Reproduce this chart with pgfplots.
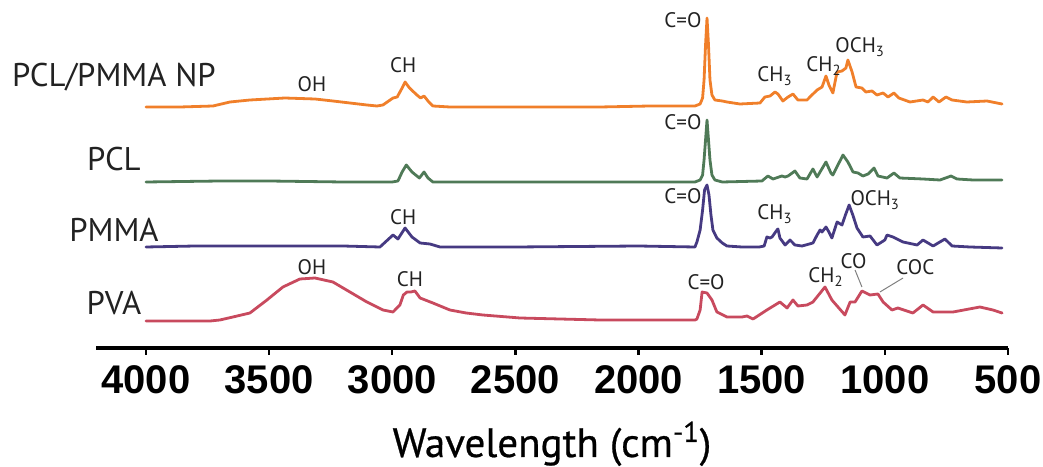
\documentclass[border=0pt]{standalone}
\usepackage{pgfplots}
\pgfplotsset{compat=1.18}
\usepackage{fontspec}
\setmainfont{PT Sans}
\newfontfamily\tickfont{Liberation Sans}
\newfontfamily\labfont{PT Sans}[FakeBold=0.6]
\definecolor{cOr}{HTML}{F07F2A}
\definecolor{cGr}{HTML}{4F7A57}
\definecolor{cPu}{HTML}{463A82}
\definecolor{cRe}{HTML}{C84A5E}
\definecolor{cTx}{HTML}{222222}
\begin{document}
\begin{tikzpicture}
\begin{axis}[
  scale only axis, width=456pt, height=174pt,
  xmin=500, xmax=4203, ymin=-348, ymax=0,
  x dir=reverse,
  axis x line=bottom, axis y line=none,
  x axis line style={-, line width=2pt},
  xtick={500,1000,1500,2000,2500,3000,3500,4000},
  xticklabels={500,1000,1500,2000,2500,3000,3500,4000},
  tick align=outside, major tick length=3.5pt,
  tick style={black, line width=1.2pt},
  xticklabel style={font=\tickfont\bfseries\fontsize{20}{20}\selectfont, anchor=north, inner sep=0pt, yshift=-5pt},
  xlabel={Wavelength (cm\textsuperscript{-1})},
  xlabel style={font=\labfont\fontsize{20.5}{22}\selectfont, at={(axis description cs:0.5,0)}, anchor=base, yshift=-54.5pt, inner sep=0pt},
  clip=false,
  every axis plot/.append style={line width=1.4pt, line join=round, line cap=round, mark=none},
]
% invisible bounding box
\path (axis cs:4592.8,-461) rectangle (axis cs:357.8,0);

% PCL/PMMA NP (orange)
\addplot[cOr] coordinates {
(4000,-107) (3862,-107) (3728,-106) (3659,-102) (3578,-100) (3436,-98) (3314,-99) (3241,-101) (3172,-103) (3103,-105) (3062,-106) (3038,-105)
(2997,-98) (2980,-97) (2960,-88) (2948,-82) (2930,-88) (2900,-95) (2885,-98) (2871,-96) (2855,-101) (2835,-106) (2766,-107) (2481,-107) (2157,-107) (1954,-106)
(1771,-106) (1750,-104) (1740,-98) (1734,-80) (1728,-45) (1722,-18) (1716,-45) (1710,-80) (1702,-95) (1690,-100) (1660,-101) (1641,-102) (1588,-104)
(1507,-103) (1487,-97) (1466,-96) (1446,-92) (1434,-94) (1414,-101) (1393,-97) (1373,-94) (1353,-100) (1316,-100) (1296,-95) (1275,-90) (1255,-87)
(1239,-76) (1227,-85) (1211,-93) (1194,-72) (1174,-71) (1158,-68) (1150,-60) (1133,-72) (1117,-87) (1093,-88) (1077,-92) (1052,-91) (1032,-95)
(1007,-93) (987,-97) (963,-93) (943,-98) (898,-102) (845,-100) (825,-102) (804,-97) (780,-102) (752,-97) (727,-100) (667,-102) (585,-101) (524,-104)
};

% PCL (green)
\addplot[cGr] coordinates {
(4000,-182) (3700,-181) (3500,-181) (3200,-182) (3000,-182) (2977,-181) (2960,-172) (2943,-165) (2920,-172) (2890,-178) (2871,-172) (2855,-178) (2835,-182)
(2500,-182) (2000,-182) (1771,-182) (1750,-180) (1740,-175) (1734,-160) (1728,-140) (1722,-120) (1716,-140) (1710,-160) (1702,-175) (1690,-180) (1660,-182)
(1499,-181) (1475,-176) (1454,-179) (1418,-176) (1405,-177) (1393,-176) (1365,-171) (1345,-178) (1316,-179) (1292,-169) (1275,-177) (1239,-162)
(1219,-173) (1211,-175) (1170,-155) (1150,-162) (1129,-172) (1109,-173) (1089,-176) (1068,-174) (1044,-168) (1028,-176) (991,-178) (963,-173)
(939,-178) (845,-179) (776,-180) (731,-176) (707,-179) (642,-180) (524,-180)
};

% PMMA (purple)
\addplot[cPu] coordinates {
(4000,-247) (3800,-246) (3500,-246) (3200,-246) (3050,-247) (2997,-235) (2977,-239) (2948,-228) (2920,-237) (2887,-243) (2847,-244) (2806,-247)
(2500,-247) (2000,-246) (1771,-247) (1763,-242) (1750,-230) (1740,-210) (1732,-190) (1722,-185) (1714,-195) (1706,-215) (1698,-230) (1682,-238) (1660,-243)
(1641,-246) (1580,-247) (1510,-247) (1490,-246) (1479,-237) (1466,-238) (1458,-237) (1438,-230) (1434,-229) (1426,-238) (1405,-245) (1385,-240)
(1365,-245) (1336,-246) (1292,-243) (1275,-235) (1263,-230) (1255,-232) (1239,-227) (1227,-232) (1215,-238) (1194,-222) (1174,-225) (1160,-215)
(1145,-205) (1130,-215) (1113,-228) (1089,-237) (1060,-236) (1032,-245) (1000,-240) (991,-235) (967,-237) (926,-242) (869,-245) (845,-240)
(804,-246) (756,-239) (727,-246) (654,-247) (524,-248)
};

% PVA (red)
\addplot[cRe] coordinates {
(4000,-321) (3862,-321) (3740,-321) (3700,-320) (3647,-317) (3578,-313) (3509,-300) (3444,-287) (3375,-279) (3314,-278) (3241,-282) (3172,-292)
(3103,-302) (3038,-310) (2997,-312) (2969,-305) (2955,-295) (2940,-292) (2925,-292) (2908,-291) (2887,-298) (2835,-303) (2766,-310) (2700,-313) (2632,-315)
(2481,-318) (2157,-320) (1954,-320) (1771,-320) (1763,-319) (1750,-310) (1742,-292) (1722,-293) (1702,-300) (1682,-312) (1641,-317) (1580,-317)
(1560,-316) (1535,-319) (1479,-310) (1426,-302) (1397,-308) (1373,-300) (1353,-306) (1316,-305) (1292,-302) (1243,-287) (1215,-300) (1162,-315)
(1141,-302) (1121,-302) (1093,-291) (1060,-295) (1028,-294) (1007,-302) (971,-310) (947,-308) (886,-313) (845,-305) (804,-312) (723,-312)
(614,-307) (561,-310) (524,-313)
};

% sample labels
\begin{scope}[every node/.style={anchor=base, inner sep=0pt, font=\fontsize{16.4}{16}\selectfont, text=cTx}]
\node at (axis cs:4130,-87) {PCL/PMMA NP};
\node at (axis cs:4130,-171) {PCL};
\node at (axis cs:4130,-242) {PMMA};
\node at (axis cs:4130,-315) {PVA};
\end{scope}

% annotations
\begin{scope}[every node/.style={anchor=base, inner sep=0pt, font=\fontsize{10.5}{10}\selectfont, text=cTx}]
\node at (axis cs:1820,-28) {C=O};
\node at (axis cs:2956,-73) {CH};
\node at (axis cs:3326,-92) {OH};
\node[anchor=base west] at (axis cs:1519,-82) {CH\textsubscript{3}};
\node[anchor=base west] at (axis cs:1320,-72) {CH\textsubscript{2}};
\node[anchor=base west] at (axis cs:1202,-53) {OCH\textsubscript{3}};
\node at (axis cs:1820,-130) {C=O};
\node at (axis cs:2956,-225) {CH};
\node at (axis cs:1820,-204) {C=O};
\node[anchor=base west] at (axis cs:1519,-220) {CH\textsubscript{3}};
\node[anchor=base west] at (axis cs:1141,-206) {OCH\textsubscript{3}};
\node at (axis cs:3326,-275) {OH};
\node at (axis cs:2928,-287) {CH};
\node at (axis cs:1726,-290) {C=O};
\node[anchor=base west] at (axis cs:1312,-283) {CH\textsubscript{2}};
\node at (axis cs:1127,-269) {CO};
\node at (axis cs:876,-275) {COC};
\end{scope}
\draw[gray, line width=0.5pt] (axis cs:1121,-270) -- (axis cs:1093,-287);
\draw[gray, line width=0.5pt] (axis cs:926,-278) -- (axis cs:1020,-292);
\end{axis}
\end{tikzpicture}
\end{document}
